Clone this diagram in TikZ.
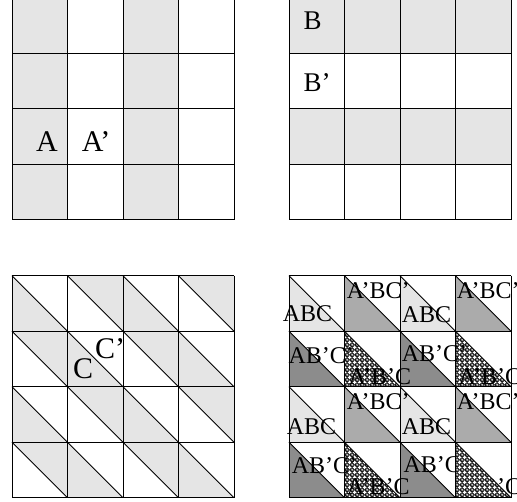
\documentclass[tikz,border=0pt]{standalone}
\usepackage{fontspec}
\setmainfont{Liberation Serif}
\usetikzlibrary{patterns}

% fish-net fill for the A'B'C triangles
\pgfdeclarepatternformonly{scales}{\pgfqpoint{0pt}{0pt}}{\pgfqpoint{5pt}{5pt}}{\pgfqpoint{5pt}{5pt}}{%
  \pgfsetlinewidth{0.45pt}
  \pgfpathcircle{\pgfqpoint{0pt}{0pt}}{2.5pt}
  \pgfpathcircle{\pgfqpoint{5pt}{0pt}}{2.5pt}
  \pgfpathcircle{\pgfqpoint{0pt}{5pt}}{2.5pt}
  \pgfpathcircle{\pgfqpoint{5pt}{5pt}}{2.5pt}
  \pgfpathcircle{\pgfqpoint{2.5pt}{2.5pt}}{2.5pt}
  \pgfusepath{stroke}}

\begin{document}
\begin{tikzpicture}[x=1pt,y=-1pt,
  cell/.style={draw=black,line width=1pt},
  diag/.style={draw=black,line width=0.8pt},
  lite/.style={fill=black!10},
  mid/.style={fill=black!33},
  dark/.style={fill=black!45},
  net/.style={pattern=scales,pattern color=black},
  lbl/.style={anchor=base west,inner sep=0pt,font=\fontsize{30}{32}\selectfont},
  sml/.style={lbl,font=\fontsize{24}{26}\selectfont},
]
  \useasboundingbox (0,0) rectangle (517,502);
  \clip (0,0) rectangle (517,502);
  \def\s{55.5}

  % grid A: columns
  \begin{scope}[shift={(12,-2)}]
    \foreach \c in {0,2}
      \fill[lite] (\c*\s,0) rectangle ++(\s,4*\s);
    \foreach \i in {0,...,4} {
      \draw[cell] (\i*\s,0) -- (\i*\s,4*\s);
      \draw[cell] (0,\i*\s) -- (4*\s,\i*\s);
    }
  \end{scope}
  \node[lbl,anchor=base east] (a) at (58,151.7) {A};
  \node[lbl] (an) at (81.7,151.7) {A’};

  % grid B: rows
  \begin{scope}[shift={(289,-2)}]
    \foreach \r in {0,2}
      \fill[lite] (0,\r*\s) rectangle ++(4*\s,\s);
    \foreach \i in {0,...,4} {
      \draw[cell] (\i*\s,0) -- (\i*\s,4*\s);
      \draw[cell] (0,\i*\s) -- (4*\s,\i*\s);
    }
  \end{scope}
  \node[lbl,font=\fontsize{27}{29}\selectfont] (b) at (303.3,29.3) {B};
  \node[lbl,font=\fontsize{27}{29}\selectfont] (bn) at (303.3,91.7) {B’};

  % grid C: triangles
  \begin{scope}[shift={(12,275.7)}]
    \foreach \r in {0,...,3}
      \foreach \c in {0,...,3} {
        \pgfmathtruncatemacro\k{mod(\r+\c,2)}
        \ifnum\k=0
          \fill[lite] (\c*\s,\r*\s) -- ++(0,\s) -- ++(\s,0) -- cycle;
        \else
          \fill[lite] (\c*\s,\r*\s) -- ++(\s,0) -- ++(0,\s) -- cycle;
        \fi
        \draw[diag] (\c*\s,\r*\s) -- ++(\s,\s);
      }
    \foreach \i in {0,...,4} {
      \draw[cell] (\i*\s,0) -- (\i*\s,4*\s);
      \draw[cell] (0,\i*\s) -- (4*\s,\i*\s);
    }
  \end{scope}
  \node[lbl] (c) at (73,379) {C};
  \node[lbl] (cn) at (95,359) {C’};

  % grid ABC: overlay
  \begin{scope}[shift={(289,275.7)}]
    \foreach \r in {0,2}
      \foreach \c in {0,2} {
        \fill[lite] (\c*\s,\r*\s) -- ++(0,\s) -- ++(\s,0) -- cycle;
        \fill[mid] (\c*\s+\s,\r*\s) -- ++(0,\s) -- ++(\s,0) -- cycle;
        \fill[dark] (\c*\s,\r*\s+\s) -- ++(0,\s) -- ++(\s,0) -- cycle;
        \fill[white] (\c*\s+\s,\r*\s+\s) -- ++(0,\s) -- ++(\s,0) -- cycle;
        \fill[net] (\c*\s+\s,\r*\s+\s) -- ++(0,\s) -- ++(\s,0) -- cycle;
      }
  \end{scope}
  \node[sml] (abc1) at (282.7,321.7) {ABC};
  \node[sml] (abc2) at (401.7,323) {ABC};
  \node[sml] (abc3) at (286.7,435) {ABC};
  \node[sml] (abc4) at (401.7,435) {ABC};
  \node[sml] (anbcn1) at (346.7,298.3) {A’BC’};
  \node[sml] (anbcn2) at (456.7,298.3) {A’BC’};
  \node[sml] (anbcn3) at (346.7,410) {A’BC’};
  \node[sml] (anbcn4) at (456.7,410) {A’BC’};
  \node[sml] (abncn1) at (288.3,363.3) {AB’C’};
  \node[sml] (abncn2) at (401.7,362) {AB’C’};
  \node[sml] (abncn3) at (291.7,473.3) {AB’C’};
  \node[sml] (abncn4) at (403.3,473) {AB’C’};
  \node[sml] (anbnc1) at (348.3,385) {A’B’C};
  \node[sml] (anbnc2) at (458.3,385) {A’B’C};
  \node[sml] (anbnc3) at (346.7,495) {A’B’C};
  \node[sml] (anbnc4) at (458.3,495) {A’B’C};
  \begin{scope}[shift={(289,275.7)}]
    % last net triangle lies over its label
    \fill[white] (3*\s,3*\s) -- ++(0,\s) -- ++(\s,0) -- cycle;
    \fill[net] (3*\s,3*\s) -- ++(0,\s) -- ++(\s,0) -- cycle;
    \foreach \r in {0,...,3}
      \foreach \c in {0,...,3}
        \draw[diag] (\c*\s,\r*\s) -- ++(\s,\s);
    \foreach \i in {0,...,4} {
      \draw[cell] (\i*\s,0) -- (\i*\s,4*\s);
      \draw[cell] (0,\i*\s) -- (4*\s,\i*\s);
    }
  \end{scope}
\end{tikzpicture}
\end{document}
